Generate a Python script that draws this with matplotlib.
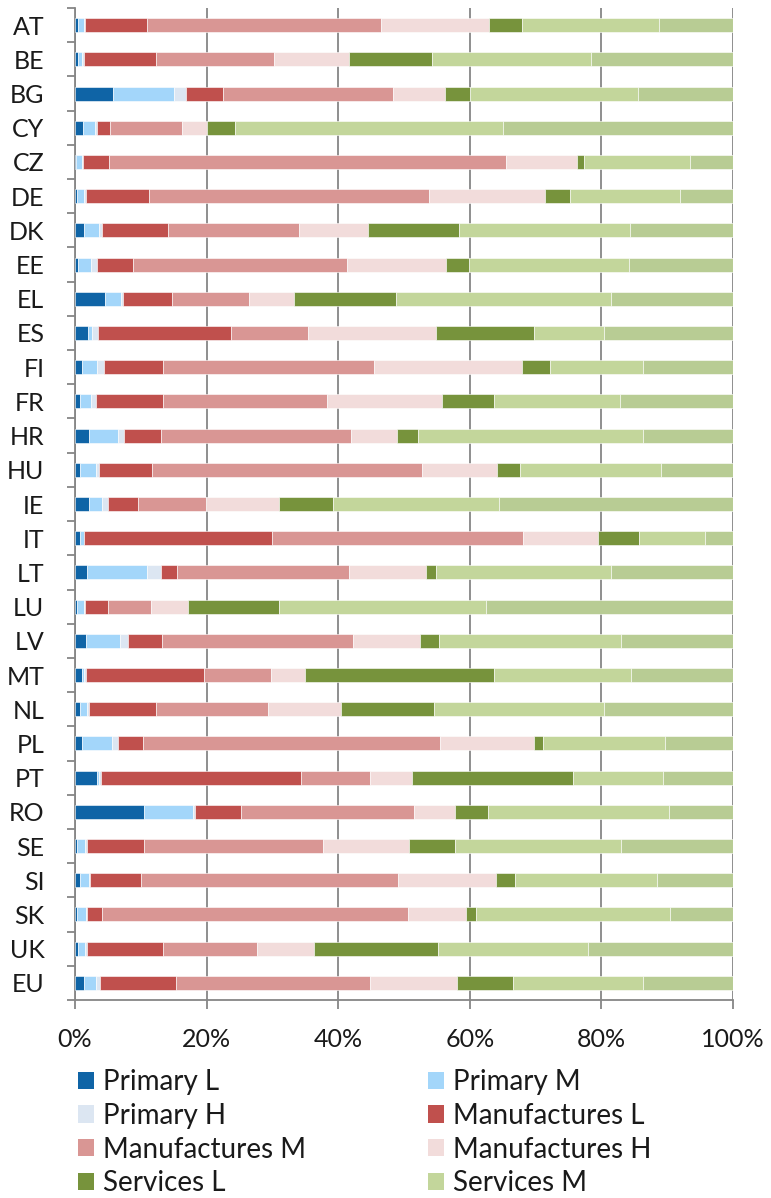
import numpy as np
import matplotlib
matplotlib.use("Agg")
import matplotlib.pyplot as plt
from matplotlib.patches import Patch

plt.rcParams['font.family'] = ['Lato', 'DejaVu Sans']

countries = ['AT', 'BE', 'BG', 'CY', 'CZ', 'DE', 'DK', 'EE', 'EL', 'ES', 'FI', 'FR', 'HR', 'HU',
             'IE', 'IT', 'LT', 'LU', 'LV', 'MT', 'NL', 'PL', 'PT', 'RO', 'SE', 'SI', 'SK', 'UK', 'EU']

primary_l = [0.5, 0.5, 5.7, 1.2, 0.1, 0.3, 1.4, 0.5, 4.6, 2.0, 1.0, 0.8, 2.2, 0.8,
             2.2, 0.8, 1.8, 0.3, 1.6, 1.0, 0.8, 1.0, 3.4, 10.5, 0.3, 0.8, 0.3, 0.5, 1.4]
primary_m = [0.8, 0.6, 9.3, 1.8, 0.9, 1.1, 2.2, 2.0, 2.4, 0.6, 2.4, 1.6, 4.4, 2.4,
             1.9, 0.5, 9.1, 1.1, 5.2, 0.4, 1.0, 4.6, 0.3, 7.5, 1.2, 1.4, 1.4, 1.0, 1.8]
primary_h = [0.2, 0.3, 1.9, 0.3, 0.2, 0.3, 0.5, 0.8, 0.3, 0.9, 1.0, 0.8, 0.8, 0.4,
             0.9, 0.1, 2.1, 0.1, 1.3, 0.2, 0.4, 0.9, 0.3, 0.3, 0.3, 0.1, 0.2, 0.3, 0.6]
manuf_l = [9.4, 10.9, 5.6, 2.0, 3.9, 9.6, 10.1, 5.5, 7.4, 20.2, 8.9, 10.2, 5.7, 8.1,
           4.6, 28.6, 2.5, 3.5, 5.2, 18.0, 10.1, 3.9, 30.4, 6.9, 8.7, 7.8, 2.2, 11.5, 11.5]
manuf_m = [35.6, 17.9, 25.8, 11.0, 60.4, 42.4, 19.9, 32.5, 11.7, 11.7, 32.2, 24.9, 28.8, 41.1,
           10.3, 38.2, 26.1, 6.5, 29.0, 10.2, 17.1, 45.2, 10.5, 26.3, 27.3, 39.0, 46.6, 14.3, 29.6]
manuf_h = [16.3, 11.5, 7.9, 3.7, 10.9, 17.7, 10.4, 15.1, 6.9, 19.5, 22.5, 17.5, 7.1, 11.5,
           11.1, 11.4, 11.7, 5.7, 10.2, 5.2, 11.0, 14.3, 6.3, 6.3, 13.0, 14.9, 8.8, 8.7, 13.2]
serv_l = [5.0, 12.6, 3.7, 4.3, 1.0, 3.7, 13.9, 3.5, 15.4, 14.9, 4.2, 7.9, 3.1, 3.5,
          8.2, 6.2, 1.5, 13.8, 2.9, 28.7, 14.1, 1.4, 24.5, 5.0, 7.0, 2.9, 1.6, 18.8, 8.5]
serv_m = [20.9, 24.2, 25.6, 40.7, 16.2, 16.7, 26.0, 24.3, 32.7, 10.6, 14.1, 19.1, 34.2, 21.5,
          25.1, 10.1, 26.6, 31.4, 27.7, 20.9, 25.9, 18.6, 13.6, 27.5, 25.3, 21.6, 29.5, 22.9, 19.7]
serv_h = [11.2, 21.6, 14.4, 35.0, 6.5, 8.1, 15.7, 15.8, 18.5, 19.6, 13.7, 17.2, 13.7, 10.9,
          35.6, 4.2, 18.5, 37.6, 17.0, 15.5, 19.6, 10.3, 10.7, 9.8, 17.0, 11.6, 9.6, 22.0, 13.7]

series_names = ['Primary L', 'Primary M', 'Primary H', 'Manufactures L', 'Manufactures M',
                'Manufactures H', 'Services L', 'Services M', 'Services H']
series = [primary_l, primary_m, primary_h, manuf_l, manuf_m, manuf_h, serv_l, serv_m, serv_h]
colors = ['#0F64A6', '#A3D6FA', '#DCE6F2', '#C0504D', '#D99694', '#F2DCDB',
          '#77933C', '#C3D69B', '#B8CC94']

data = np.array(series, dtype=float)
shares = data / data.sum(axis=0) * 100

fig = plt.figure(figsize=(7.71, 11.98), dpi=100)
ax = fig.add_axes([75 / 771, 1 - 1000 / 1198, (733 - 75) / 771, (1000 - 8) / 1198])

y = np.arange(len(countries))
left = np.zeros(len(countries))
handles = []
for name, vals, col in zip(series_names, shares, colors):
    ax.barh(y, vals, left=left, height=0.41, color=col, edgecolor='white',
            linewidth=0.4, zorder=3)
    left += vals
    handles.append(Patch(facecolor=col, label=name))

ax.set_xlim(0, 100)
ax.set_ylim(len(countries) - 0.5, -0.5)
ax.set_xticks(np.arange(0, 101, 20))
ax.set_xticklabels([f'{v}%' for v in range(0, 101, 20)])
ax.grid(axis='x', color='#868686', linewidth=1.3, zorder=0)

ax.set_yticks(y)
ax.set_yticklabels(countries)
ax.set_yticks(np.arange(-0.5, len(countries), 1), minor=True)
ax.tick_params(axis='y', which='major', length=0, pad=22, labelsize=18, labelcolor='#1a1a1a')
ax.tick_params(axis='y', which='minor', length=6, width=1.3, color='#868686')
ax.tick_params(axis='x', length=6.5, width=1.3, color='#868686', pad=14,
               labelsize=18, labelcolor='#1a1a1a')

for s in ['top', 'right']:
    ax.spines[s].set_visible(False)
for s in ['left', 'bottom']:
    ax.spines[s].set_color('#868686')
    ax.spines[s].set_linewidth(1.3)

# legend is filled column-wise, so reorder to read row by row
order = [0, 2, 4, 6, 1, 3, 5, 7]
leg = fig.legend([handles[i] for i in order], [series_names[i] for i in order],
                 ncol=2, loc='upper left', bbox_to_anchor=(78 / 771, 1 - 1069 / 1198),
                 frameon=False, fontsize=20, handlelength=0.58, handleheight=0.58,
                 handletextpad=0.32, columnspacing=4.4, labelspacing=0.28,
                 borderpad=0, borderaxespad=0)
for t in leg.get_texts():
    t.set_color('#1a1a1a')

fig.savefig('out.png', dpi=100)
